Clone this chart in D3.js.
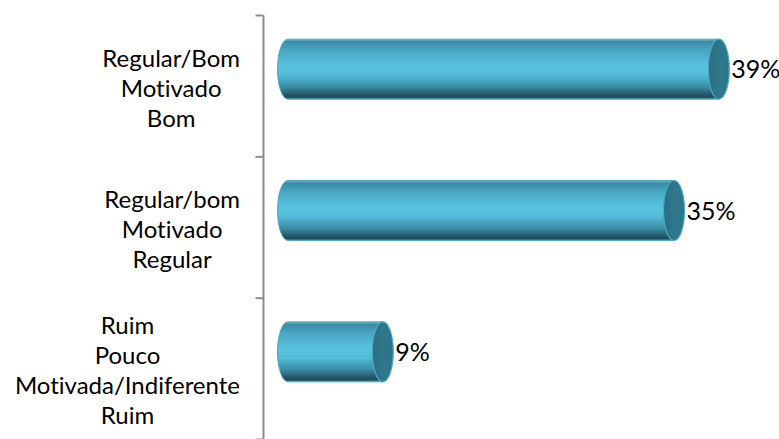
<!DOCTYPE html>
<html>
<head>
<meta charset="utf-8">
<script src="https://cdn.jsdelivr.net/npm/d3@7"></script>
<style>
  html, body { margin: 0; padding: 0; background: #ffffff; }
  svg { display: block; }
  text { font-family: Lato, "Open Sans", sans-serif; fill: #000; font-variant-ligatures: none; font-feature-settings: "liga" 0, "clig" 0; }
</style>
</head>
<body>
<svg id="chart" width="779" height="439"></svg>
<script>
// Category labels (each split into lines) and their percentage values
const categories = [
  ["Regular/Bom", "Motivado", "Bom"],
  ["Regular/bom", "Motivado", "Regular"],
  ["Ruim", "Pouco", "Motivada/Indiferente", "Ruim"]
];
const values = [39, 35, 9];
const valueLabels = ["39%", "35%", "9%"];

const svg = d3.select("#chart");
const W = 779, H = 439;

const axisX = 263.5;
const y = d3.scaleBand()
  .domain(d3.range(categories.length))
  .range([15.5, 439.5])
  .padding(0);

const x = d3.scaleLinear().domain([0, 45]).range([282, 282 + 45 * 11.2]);

// Cylinder geometry
const barH = 60;          // cylinder diameter
const capRx = 10.5;       // end-cap ellipse horizontal radius
const baseOffset = 6;     // base of cylinder sits slightly right of x(0)
const liftUp = 17;        // 3D lift of the bars above the band centre

const defs = svg.append("defs");
const bodyGrad = defs.append("linearGradient")
  .attr("id", "body").attr("x1", 0).attr("y1", 0).attr("x2", 0).attr("y2", 1);
[
  [0.00, "#8fbccb"],
  [0.04, "#3b8aa2"],
  [0.20, "#4aa9c5"],
  [0.45, "#58c1de"],
  [0.60, "#54bcd9"],
  [0.80, "#3a8ba3"],
  [0.92, "#24596a"],
  [0.97, "#1f4a58"],
  [1.00, "#5aa3b6"]
].forEach(([o, c]) => bodyGrad.append("stop").attr("offset", o).attr("stop-color", c));

const capGrad = defs.append("linearGradient")
  .attr("id", "cap").attr("x1", 0).attr("y1", 0).attr("x2", 1).attr("y2", 0);
[
  [0.0, "#2a6f82"],
  [0.6, "#2f788c"],
  [1.0, "#2c7589"]
].forEach(([o, c]) => capGrad.append("stop").attr("offset", o).attr("stop-color", c));

// Value axis line and category tick marks
svg.append("line")
  .attr("x1", axisX).attr("x2", axisX)
  .attr("y1", 15.5).attr("y2", H)
  .attr("stroke", "#8c8c8c").attr("stroke-width", 2);

const tickYs = d3.range(categories.length + 1).map(i => 15.5 + i * y.step());
svg.selectAll(".tick")
  .data(tickYs)
  .join("line")
  .attr("class", "tick")
  .attr("x1", axisX - 8).attr("x2", axisX)
  .attr("y1", d => d).attr("y2", d => d)
  .attr("stroke", "#8c8c8c").attr("stroke-width", 2);

// Cylinders
const bars = svg.selectAll(".bar")
  .data(values.map((v, i) => ({ v, i })))
  .join("g")
  .attr("class", "bar");

bars.each(function (d) {
  const g = d3.select(this);
  const cy = y(d.i) + y.bandwidth() / 2 - liftUp;
  const top = cy - barH / 2, bot = cy + barH / 2;
  const x0 = x(0) + baseOffset;
  const x1 = x(d.v);
  // body with rounded left end
  const path = `M${x1},${top} L${x0},${top} A${capRx},${barH / 2} 0 0 0 ${x0},${bot} L${x1},${bot} Z`;
  g.append("path")
    .attr("d", path)
    .attr("fill", "url(#body)")
    .attr("stroke", "#4fa6bd")
    .attr("stroke-width", 1);
  // right end cap
  g.append("ellipse")
    .attr("cx", x1).attr("cy", cy)
    .attr("rx", capRx).attr("ry", barH / 2)
    .attr("fill", "url(#cap)")
    .attr("stroke", "#49a9c3")
    .attr("stroke-width", 1.2);
  // value label
  g.append("text")
    .attr("x", x1 + capRx + 2)
    .attr("y", cy)
    .attr("dy", "0.36em")
    .attr("font-size", 25)
    .text(valueLabels[d.i]);
});

// Category labels: block right-aligned to the axis, lines centred within the block
const lineH = 30;
const labelRight = 240;
categories.forEach((lines, i) => {
  const cy = y(i) + y.bandwidth() / 2 + 2;
  const g = svg.append("g");
  const texts = g.selectAll("text")
    .data(lines)
    .join("text")
    .attr("font-size", 24)
    .attr("text-anchor", "middle")
    .attr("y", (d, k) => cy + (k - (lines.length - 1) / 2) * lineH)
    .attr("dy", "0.36em")
    .text(d => d);
  let maxW = 0;
  texts.each(function () { maxW = Math.max(maxW, this.getComputedTextLength()); });
  texts.attr("x", labelRight - maxW / 2);
});
</script>
</body>
</html>
